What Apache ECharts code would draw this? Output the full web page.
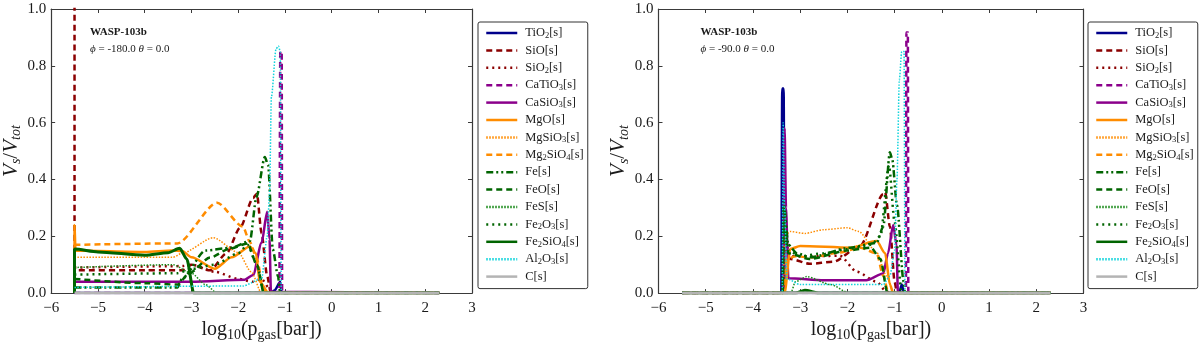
<!DOCTYPE html>
<html>
<head>
<meta charset="utf-8">
<title>WASP-103b cloud volume fractions</title>
<script src="https://cdn.jsdelivr.net/npm/echarts@6/dist/echarts.min.js"></script>
<style>
    html, body { margin: 0; padding: 0; background: #fff; }
    #chart { width: 1200px; height: 347px; }
</style>
</head>
<body>
<div id="chart"></div>
<script>
    // species names, in legend order
    var names = ['TiO2[s]', 'SiO[s]', 'SiO2[s]', 'CaTiO3[s]', 'CaSiO3[s]', 'MgO[s]', 'MgSiO3[s]', 'Mg2SiO4[s]',
        'Fe[s]', 'FeO[s]', 'FeS[s]', 'Fe2O3[s]', 'Fe2SiO4[s]', 'Al2O3[s]', 'C[s]'];

    var xTicks = [-6, -5, -4, -3, -2, -1, 0, 1, 2, 3];
    var yTicks = [0.0, 0.2, 0.4, 0.6, 0.8, 1.0];

    // left panel, phi = -180 : [log10 p, Vs/Vtot]
    var L_TiO2 = [[-5.5,0],[-1.3,0],[-1.22,0.01],[-1.1,0.04],[-1.07,0],[2.3,0]];
    var L_SiO = [[-5.5,1.05],[-5.5,0.08],[-4,0.08],[-3.2,0.08],[-3.0,0.1],[-2.6,0.08],[-2.25,0.14],[-1.96,0.23],[-1.68,0.335],[-1.6,0.35],[-1.5,0.21],[-1.38,0.06],[-1.3,0],[2.3,0]];
    var L_SiO2 = [[-5.5,0.09],[-3.2,0.095],[-3.0,0.1],[-2.5,0.075],[-2.0,0.05],[-1.7,0.04],[-1.5,0.05],[-1.35,0.02],[-1.25,0],[2.3,0]];
    var L_CaTiO3 = [[-5.5,0],[-1.12,0],[-1.1,0.85],[-1.07,0.85],[-1.06,0],[2.3,0]];
    var L_CaSiO3 = [[-5.5,0],[-5.5,0.04],[-3,0.04],[-1.86,0.047],[-1.68,0.064],[-1.5,0.177],[-1.38,0.286],[-1.33,0.19],[-1.3,0.005],[2.3,0]];
    var L_MgO = [[-5.5,0],[-5.5,0.24],[-5.48,0.15],[-4,0.145],[-3.4,0.15],[-3.2,0.148],[-3.0,0.126],[-2.5,0.086],[-2.14,0.126],[-1.75,0.164],[-1.62,0.14],[-1.54,0.04],[-1.35,0],[2.3,0]];
    var L_MgSiO3 = [[-5.5,0.126],[-3.4,0.126],[-3.2,0.14],[-2.53,0.195],[-2.0,0.143],[-1.72,0.075],[-1.5,0],[2.3,0]];
    var L_Mg2SiO4 = [[-5.5,0.17],[-3.3,0.175],[-2.45,0.318],[-1.9,0.234],[-1.75,0.18],[-1.6,0.12],[-1.47,0.02],[-1.4,0],[2.3,0]];
    var L_Fe = [[-5.5,0.02],[-3.3,0.02],[-3.2,0.05],[-2.7,0.15],[-2.14,0.16],[-1.75,0.183],[-1.61,0.337],[-1.43,0.479],[-1.36,0.45],[-1.26,0.155],[-1.15,0.06],[-1.1,0],[2.3,0]];
    var L_FeO = [[-5.5,0.05],[-4,0.035],[-3.3,0.03],[-3.05,0.07],[-2.6,0.125],[-2.2,0.155],[-1.8,0.175],[-1.6,0.1],[-1.45,0],[2.3,0]];
    var L_FeS = [[-5.5,0.09],[-3.4,0.1],[-3.0,0.07],[-2.7,0.03],[-2.45,0],[2.3,0]];
    var L_Fe2O3 = [[-5.5,0.065],[-3.3,0.07],[-3.0,0.085],[-2.5,0.1],[-2.0,0.14],[-1.8,0.17],[-1.6,0.1],[-1.45,0],[2.3,0]];
    var L_Fe2SiO4 = [[-5.5,0],[-5.5,0.155],[-5,0.145],[-4,0.133],[-3.5,0.142],[-3.25,0.158],[-3.1,0.12],[-2.95,0],[2.3,0]];
    var L_Al2O3 = [[-5.5,0.02],[-1.9,0.025],[-1.5,0.05],[-1.38,0.2],[-1.33,0.35],[-1.29,0.69],[-1.19,0.86],[-1.14,0.87],[-1.1,0.85],[-1.08,0],[2.3,0]];
    var L_C = [[-5.5,0],[2.3,0]];

    // right panel, phi = -90
    var R_TiO2 = [[-5.5,0],[-3.4,0],[-3.38,0.72],[-3.35,0.72],[-3.33,0],[-0.9,0],[-0.85,0.03],[-0.8,0],[2.3,0]];
    var R_SiO = [[-5.5,0],[-3.38,0],[-3.35,0.15],[-3.2,0.12],[-2.8,0.103],[-2.3,0.11],[-1.73,0.166],[-1.24,0.348],[-1.2,0.355],[-1.1,0.234],[-1.0,0.04],[-0.95,0],[2.3,0]];
    var R_SiO2 = [[-5.5,0],[-3.38,0],[-3.35,0.2],[-3.2,0.13],[-2.6,0.13],[-2.16,0.132],[-1.8,0.075],[-1.38,0.04],[-1.2,0.01],[-1.1,0],[2.3,0]];
    var R_CaTiO3 = [[-5.5,0],[-0.76,0],[-0.75,0.917],[-0.72,0.917],[-0.71,0],[2.3,0]];
    var R_CaSiO3 = [[-5.5,0],[-3.36,0],[-3.33,0.58],[-3.3,0.3],[-3.25,0.052],[-2.5,0.045],[-1.6,0.045],[-1.24,0.069],[-1.14,0.14],[-1.03,0.24],[-0.96,0.17],[-0.93,0],[2.3,0]];
    var R_MgO = [[-5.5,0],[-3.33,0],[-3.21,0.155],[-3.0,0.166],[-1.94,0.16],[-1.38,0.183],[-1.2,0.14],[-1.1,0.03],[-1.03,0],[2.3,0]];
    var R_MgSiO3 = [[-5.5,0],[-3.36,0],[-3.33,0.2],[-3.21,0.217],[-2.9,0.21],[-2.51,0.223],[-2.0,0.23],[-1.76,0.217],[-1.38,0.143],[-1.17,0.06],[-1.0,0],[2.3,0]];
    var R_Mg2SiO4 = [[-5.5,0],[-3.35,0],[-3.28,0.12],[-3.1,0.13],[-2.8,0.125],[-2.16,0.143],[-1.73,0.16],[-1.38,0.14],[-1.24,0.06],[-1.13,0],[2.3,0]];
    var R_Fe = [[-5.5,0],[-3.37,0],[-3.35,0.32],[-3.25,0.17],[-3.07,0.14],[-2.79,0.126],[-1.94,0.16],[-1.38,0.177],[-1.24,0.234],[-1.1,0.496],[-1.05,0.47],[-0.95,0.31],[-0.81,0.04],[-0.78,0],[2.3,0]];
    var R_FeO = [[-5.5,0],[-3.37,0],[-3.35,0.25],[-3.25,0.14],[-2.8,0.12],[-2.0,0.15],[-1.5,0.16],[-1.3,0.12],[-1.15,0],[2.3,0]];
    var R_FeS = [[-5.5,0],[-3.2,0],[-3.1,0.04],[-2.86,0.058],[-2.36,0.03],[-1.95,0],[2.3,0]];
    var R_Fe2O3 = [[-5.5,0],[-3.37,0],[-3.35,0.3],[-3.25,0.15],[-3.0,0.13],[-2.5,0.14],[-2.0,0.155],[-1.5,0.17],[-1.3,0.2],[-1.12,0.45],[-1.0,0.25],[-0.85,0],[2.3,0]];
    var R_Fe2SiO4 = [[-5.5,0],[-3.1,0],[-2.9,0.01],[-2.6,0],[2.3,0]];
    var R_Al2O3 = [[-5.5,0],[-3.38,0],[-3.36,0.6],[-3.33,0.3],[-3.28,0.05],[-3,0.03],[-1.24,0.03],[-1.1,0.06],[-1.0,0.15],[-0.95,0.4],[-0.9,0.75],[-0.85,0.85],[-0.8,0.85],[-0.78,0],[2.3,0]];
    var R_C = [[-5.5,0],[2.3,0]];

    var leftData = [L_TiO2, L_SiO, L_SiO2, L_CaTiO3, L_CaSiO3, L_MgO, L_MgSiO3, L_Mg2SiO4,
        L_Fe, L_FeO, L_FeS, L_Fe2O3, L_Fe2SiO4, L_Al2O3, L_C];
    var rightData = [R_TiO2, R_SiO, R_SiO2, R_CaTiO3, R_CaSiO3, R_MgO, R_MgSiO3, R_Mg2SiO4,
        R_Fe, R_FeO, R_FeS, R_Fe2O3, R_Fe2SiO4, R_Al2O3, R_C];

    // line styles (matplotlib-like dashes)
    var DASH = [6, 4], DOT = [1.5, 1.5], DASHDOT = [2, 4], DASHDOTDOT = [7, 3, 2, 3, 2, 3];
    var styles = [
        { color: '#00008b', type: 'solid', width: 2.5 },
        { color: '#8b0000', type: DASH, width: 2.5 },
        { color: '#8b0000', type: DASHDOT, width: 2.5 },
        { color: '#8b008b', type: DASH, width: 2.5 },
        { color: '#8b008b', type: 'solid', width: 2.5 },
        { color: '#ff8c00', type: 'solid', width: 2.5 },
        { color: '#ff8c00', type: DOT, width: 1.5 },
        { color: '#ff8c00', type: DASH, width: 2.5 },
        { color: '#006400', type: DASHDOTDOT, width: 2.5 },
        { color: '#006400', type: DASH, width: 2.5 },
        { color: '#1a8a1a', type: DOT, width: 1.5 },
        { color: '#006400', type: DASHDOT, width: 2.5 },
        { color: '#006400', type: 'solid', width: 3 },
        { color: '#10d4dc', type: DOT, width: 1.5 },
        { color: '#b4b4b4', type: 'solid', width: 3 }
    ];

    var FONT = "'Liberation Serif', 'DejaVu Serif', serif";
    var INK = '#1a1a1a';

    var chart = echarts.init(document.getElementById('chart'), null, { renderer: 'canvas' });

    function minusFmt(v) {
        return String(v).replace('-', '\u2212');
    }

    var panels = [
        { left: 48, top: 9, width: 424, height: 293, data: leftData, legendLeft: 478, phi: '-180.0' },
        { left: 658.5, top: 9, width: 425, height: 293, data: rightData, legendLeft: 1088, phi: '-90.0' }
    ];

    var grid = [], xAxis = [], yAxis = [], series = [], legend = [], graphic = [];

    panels.forEach(function (p, k) {
        grid.push({ left: p.left, top: p.top, width: p.width, height: p.height, containLabel: false });
        var axLine = { show: true, onZero: false, lineStyle: { color: '#3a3a3a', width: 1.2 } };
        var tick = { show: true, inside: true, length: 4, lineStyle: { color: '#3a3a3a', width: 1 } };
        xAxis.push({
            gridIndex: k, type: 'value', min: xTicks[0], max: xTicks[xTicks.length - 1], interval: 1,
            position: 'bottom', axisLine: axLine, axisTick: tick, splitLine: { show: false },
            axisLabel: { formatter: minusFmt, fontFamily: FONT, fontSize: 15, color: INK, margin: 7 },
            name: '{n|log}{s|10}{n|(p}{s|gas}{n|[bar])}',
            nameLocation: 'middle', nameGap: 24,
            nameTextStyle: {
                rich: {
                    n: { fontFamily: FONT, fontSize: 20, color: INK, lineHeight: 24 },
                    s: { fontFamily: FONT, fontSize: 14, color: INK, lineHeight: 18, verticalAlign: 'bottom' }
                }
            }
        });
        xAxis.push({
            gridIndex: k, type: 'value', min: xTicks[0], max: xTicks[xTicks.length - 1], interval: 1,
            position: 'top', axisLine: axLine, axisTick: tick, splitLine: { show: false },
            axisLabel: { show: false }
        });
        yAxis.push({
            gridIndex: k, type: 'value', min: yTicks[0], max: yTicks[yTicks.length - 1], interval: 0.2,
            position: 'left', axisLine: axLine, axisTick: tick, splitLine: { show: false },
            axisLabel: { formatter: function (v) { return v.toFixed(1); }, fontFamily: FONT, fontSize: 15, color: INK, margin: 5 },
            name: '{i|V}{s|s}{n|/}{i|V}{s|tot}',
            nameLocation: 'middle', nameGap: 24, nameRotate: 90,
            nameTextStyle: {
                rich: {
                    i: { fontFamily: FONT, fontStyle: 'italic', fontSize: 21, color: INK, lineHeight: 24 },
                    n: { fontFamily: FONT, fontSize: 21, color: INK, lineHeight: 24 },
                    s: { fontFamily: FONT, fontStyle: 'italic', fontSize: 14, color: INK, lineHeight: 17, verticalAlign: 'bottom' }
                }
            }
        });
        yAxis.push({
            gridIndex: k, type: 'value', min: yTicks[0], max: yTicks[yTicks.length - 1], interval: 0.2,
            position: 'right', axisLine: axLine, axisTick: tick, splitLine: { show: false },
            axisLabel: { show: false }
        });

        names.forEach(function (name, i) {
            var st = styles[i];
            series.push({
                type: 'line', name: name, xAxisIndex: k * 2, yAxisIndex: k * 2,
                data: p.data[i], symbol: 'none', showSymbol: false, animation: false,
                clip: true, smooth: 0.25, smoothMonotone: 'x',
                lineStyle: { color: st.color, type: st.type, width: st.width },
                itemStyle: { color: st.color },
                emphasis: { disabled: true }
            });
        });

        legend.push({
            orient: 'vertical', left: p.legendLeft, top: 22,
            data: names, selectedMode: false,
            itemWidth: 31, itemHeight: 14, itemGap: 3.4,
            padding: [4, 4, 5, 7],
            borderColor: '#333', borderWidth: 1, borderRadius: 2,
            backgroundColor: '#fff',
            // hide the marker that line series put in the middle of the legend line
            itemStyle: { opacity: 0 },
            lineStyle: { width: 2.5 },
            formatter: function (n) { return n.replace(/(\d)/g, '{s|$1}'); },
            textStyle: {
                fontFamily: FONT, fontSize: 12.5, color: INK, lineHeight: 14, padding: [0, 0, 0, 3],
                rich: { s: { fontFamily: FONT, fontSize: 8.5, color: INK, lineHeight: 10, verticalAlign: 'bottom' } }
            }
        });

        graphic.push({
            type: 'text', left: p.left + 42, top: 27,
            style: { text: 'WASP-103b', font: "bold 11px 'Liberation Serif', serif", fill: INK }
        });
        graphic.push({
            type: 'text', left: p.left + 42, top: 44,
            style: {
                text: '{i|\u03d5} = ' + p.phi + ' {i|\u03b8} = 0.0',
                font: "11px 'Liberation Serif', serif", fill: INK,
                rich: { i: { fontFamily: FONT, fontStyle: 'italic', fontSize: 11, fill: INK } }
            }
        });
    });

    var option = {
        backgroundColor: '#fff',
        animation: false,
        grid: grid,
        xAxis: xAxis,
        yAxis: yAxis,
        legend: legend,
        graphic: graphic,
        series: series
    };
    chart.setOption(option);
</script>
</body>
</html>
